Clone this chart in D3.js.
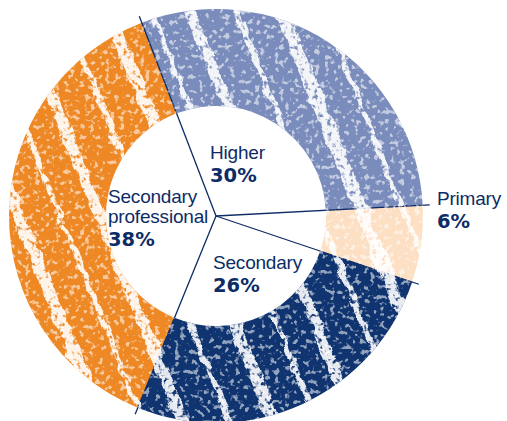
<!DOCTYPE html>
<html>
<head>
<meta charset="utf-8">
<script src="https://cdn.jsdelivr.net/npm/d3@7"></script>
<style>
  html, body { margin: 0; padding: 0; background: #fff; }
  svg { display: block; }
</style>
</head>
<body>
<svg id="chart" width="507" height="421"></svg>
<script>
// Education level shares (percent)
const categories = ["Higher", "Primary", "Secondary", "Secondary professional"];
const shares = [30, 6, 26, 38];
const labelLines = [["Higher"], ["Primary"], ["Secondary"], ["Secondary", "professional"]];
const valueLabels = ["30%", "6%", "26%", "38%"];

const fills = {
  "Higher": "#7a8cbb",
  "Primary": "#fddfc3",
  "Secondary": "#0f3470",
  "Secondary professional": "#ee8824"
};
// label anchor (left edge, first baseline), relative to the ring centre
const labelAnchor = {
  "Higher": [-6, -57],
  "Primary": [221, -11],
  "Secondary": [-3, 53],
  "Secondary professional": [-108, -13]
};

const W = 507, H = 421;
const cx = 216, cy = 216;
const rOuter = 207, rInner = 110, rRule = 214;
const ink = "#0d2c66";

const svg = d3.select("#chart");
const defs = svg.append("defs");

const data = categories.map((c, i) => ({ category: c, value: shares[i], lines: labelLines[i], pct: valueLabels[i] }));

const startDeg = -21;
const pie = d3.pie()
  .sort(null)
  .value(d => d.value)
  .startAngle(startDeg * Math.PI / 180)
  .endAngle((startDeg + 360) * Math.PI / 180);
const arcs = pie(data);
const arc = d3.arc().innerRadius(rInner).outerRadius(rOuter);

// crayon streak pattern: a few irregular white bands, tilted
const streaks = defs.append("pattern")
  .attr("id", "streaks")
  .attr("patternUnits", "userSpaceOnUse")
  .attr("width", 160).attr("height", 60)
  .attr("patternTransform", "rotate(-22)");
[[6, 11], [52, 6], [90, 13], [133, 5]].forEach(([x, w]) => {
  streaks.append("rect").attr("x", x).attr("y", 0).attr("width", w).attr("height", 60)
    .attr("fill", "#fff");
});

// roughen the streak edges and break them into grain
const rough = defs.append("filter").attr("id", "rough")
  .attr("filterUnits", "userSpaceOnUse")
  .attr("x", 0).attr("y", 0).attr("width", W).attr("height", H);
rough.append("feTurbulence").attr("type", "fractalNoise").attr("baseFrequency", "0.06")
  .attr("numOctaves", 2).attr("seed", 7).attr("result", "warp");
rough.append("feDisplacementMap").attr("in", "SourceGraphic").attr("in2", "warp")
  .attr("scale", 10).attr("xChannelSelector", "R").attr("yChannelSelector", "G").attr("result", "bent");
rough.append("feTurbulence").attr("type", "fractalNoise").attr("baseFrequency", "0.22")
  .attr("numOctaves", 2).attr("seed", 3).attr("result", "grain");
rough.append("feColorMatrix").attr("in", "grain").attr("type", "matrix")
  .attr("values", "0 0 0 0 1  0 0 0 0 1  0 0 0 0 1  5 0 0 0 -1.3").attr("result", "mask");
rough.append("feComposite").attr("in", "bent").attr("in2", "mask").attr("operator", "in");

// scattered light blotches across the coloured bands
const speckle = defs.append("filter").attr("id", "speckle")
  .attr("filterUnits", "userSpaceOnUse")
  .attr("x", 0).attr("y", 0).attr("width", W).attr("height", H);
speckle.append("feTurbulence").attr("type", "fractalNoise").attr("baseFrequency", "0.2")
  .attr("numOctaves", 2).attr("seed", 11).attr("result", "n");
speckle.append("feColorMatrix").attr("in", "n").attr("type", "matrix")
  .attr("values", "0 0 0 0 1  0 0 0 0 1  0 0 0 0 1  8 0 0 0 -4.5").attr("result", "dots");
speckle.append("feGaussianBlur").attr("in", "dots").attr("stdDeviation", 0.6).attr("result", "soft");
speckle.append("feComposite").attr("in", "soft").attr("in2", "SourceGraphic").attr("operator", "in");

// ring clip so the displaced streaks stay inside the donut
defs.append("clipPath").attr("id", "ringClip")
  .append("path")
  .attr("transform", `translate(${cx},${cy})`)
  .attr("d", d3.arc().innerRadius(rInner).outerRadius(rOuter)({ startAngle: 0, endAngle: 2 * Math.PI }));

const g = svg.append("g").attr("transform", `translate(${cx},${cy})`);

// base colour slices
g.selectAll("path.slice")
  .data(arcs)
  .join("path")
  .attr("class", "slice")
  .attr("d", arc)
  .attr("fill", d => fills[d.data.category]);

// texture overlays
const tex = svg.append("g").attr("clip-path", "url(#ringClip)");
tex.append("g").attr("opacity", 0.9).attr("filter", "url(#rough)")
  .append("rect").attr("x", -20).attr("y", -20).attr("width", W + 40).attr("height", H + 40)
  .attr("fill", "url(#streaks)");
tex.append("rect").attr("x", 0).attr("y", 0).attr("width", W).attr("height", H)
  .attr("fill", "#fff").attr("opacity", 0.55).attr("filter", "url(#speckle)");

// separator rules from the centre
g.selectAll("line.rule")
  .data(arcs)
  .join("line")
  .attr("class", "rule")
  .attr("x1", 0).attr("y1", 0)
  .attr("x2", d => rRule * Math.sin(d.startAngle))
  .attr("y2", d => -rRule * Math.cos(d.startAngle))
  .attr("stroke", ink)
  .attr("stroke-width", 1.3);

// labels
const labels = g.selectAll("text.label")
  .data(arcs)
  .join("text")
  .attr("class", "label")
  .attr("x", d => labelAnchor[d.data.category][0])
  .attr("y", d => labelAnchor[d.data.category][1])
  .attr("fill", ink);

labels.each(function (d) {
  const t = d3.select(this);
  const x = labelAnchor[d.data.category][0];
  d.data.lines.forEach((ln, i) => {
    t.append("tspan")
      .attr("x", x)
      .attr("dy", i === 0 ? 0 : 20)
      .attr("font-family", "'Liberation Sans', Arial, sans-serif")
      .attr("font-size", 19)
      .attr("letter-spacing", -0.2)
      .text(ln);
  });
  t.append("tspan")
    .attr("x", x)
    .attr("dy", 23)
    .attr("font-family", "'DejaVu Sans', sans-serif")
    .attr("font-weight", "bold")
    .attr("font-size", 19.5)
    .text(d.data.pct);
});
</script>
</body>
</html>
